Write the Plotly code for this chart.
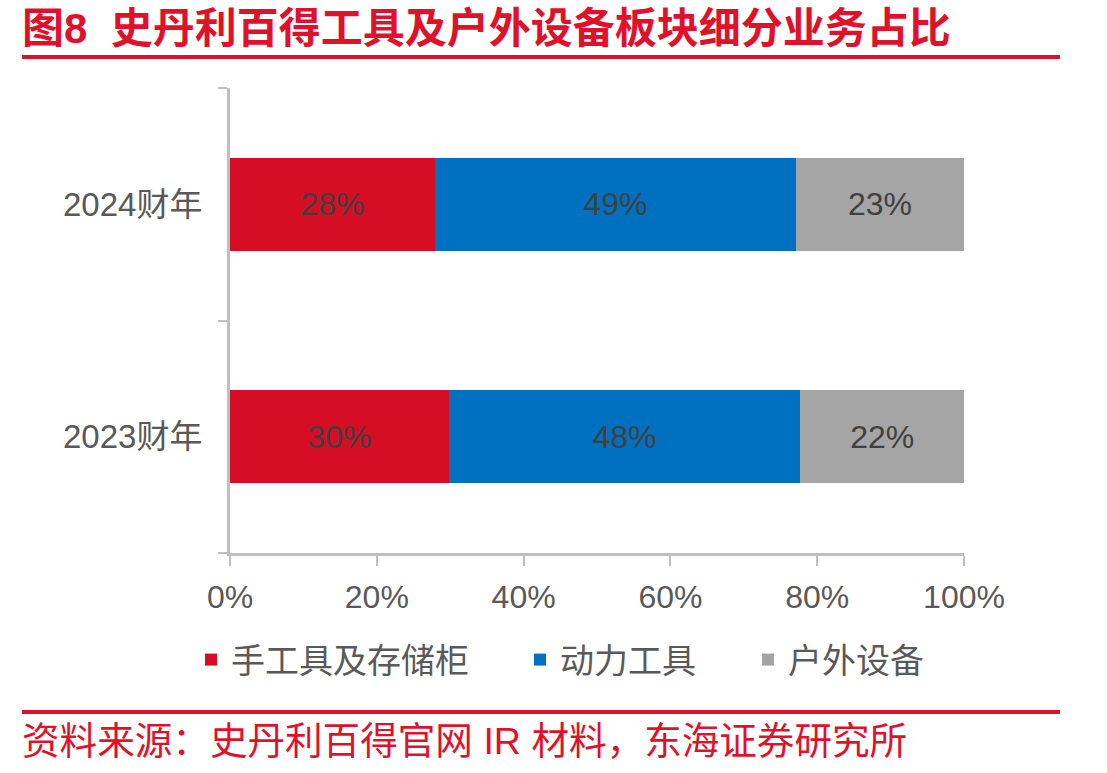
import plotly.graph_objects as go

W, H = 1107, 773
L, R, T, B = 230, 964, 88, 553  # plot area in pixels

categories = ["2023财年", "2024财年"]
series_names = ["手工具及存储柜", "动力工具", "户外设备"]
hand_tools = [29.8, 27.9]
power_tools = [47.9, 49.2]
outdoor = [22.3, 22.9]
x_ticks = [0, 20, 40, 60, 80, 100]
x_tick_labels = ["0%", "20%", "40%", "60%", "80%", "100%"]
colors = ["#D50E25", "#0070C0", "#A5A5A5"]
legend_ids = ["legend", "legend2", "legend3"]
legend_x_px = [191, 520, 748]

title_text = "图8  史丹利百得工具及户外设备板块细分业务占比"
source_text = "资料来源：史丹利百得官网 IR 材料，东海证券研究所"

FONT = "Liberation Sans, Arial, Noto Sans CJK SC, sans-serif"
RED = "#E0122B"


def px(p):
    return (p - L) / (R - L)


def py(p):
    return (B - p) / (B - T)


fig = go.Figure()
for name, vals, col, lid in zip(series_names, [hand_tools, power_tools, outdoor], colors, legend_ids):
    fig.add_trace(go.Bar(
        y=categories, x=vals, name=name, orientation="h",
        marker=dict(color=col, line=dict(width=0)),
        width=0.4,
        text=[f"{v:.0f}%" for v in vals],
        textposition="inside", insidetextanchor="middle",
        textfont=dict(color="#404040", size=32, family=FONT),
        constraintext="none",
        hoverinfo="skip",
        legend=lid,
    ))

legend_style = dict(
    orientation="h", xref="container", yref="container",
    xanchor="left", y=1 - 660 / H, yanchor="middle",
    font=dict(size=34, color="#595959"),
    bgcolor="rgba(0,0,0,0)",
    itemclick=False,
)

fig.update_layout(
    width=W, height=H,
    barmode="stack",
    plot_bgcolor="white", paper_bgcolor="white",
    margin=dict(l=L, r=W - R, t=T, b=H - B, pad=0, autoexpand=False),
    font=dict(family=FONT, color="#595959", size=32),
    xaxis=dict(
        range=[0, 100], tickvals=x_ticks, ticktext=x_tick_labels,
        showgrid=False, zeroline=False,
        showline=True, linecolor="#BFBFBF", linewidth=3,
        ticks="outside", ticklen=10, tickwidth=2, tickcolor="#BFBFBF",
        tickfont=dict(size=32, color="#595959"),
        ticklabelstandoff=4,
    ),
    yaxis=dict(
        type="category", categoryorder="array", categoryarray=categories,
        range=[-0.5, 1.5],
        showgrid=False, zeroline=False,
        showline=True, linecolor="#BFBFBF", linewidth=3,
        ticks="outside", ticklen=9, tickwidth=2, tickcolor="#BFBFBF",
        tickson="boundaries",
        tickfont=dict(size=33, color="#595959"),
        ticklabelstandoff=18,
    ),
    legend=dict(x=legend_x_px[0] / W, **legend_style),
    legend2=dict(x=legend_x_px[1] / W, **legend_style),
    legend3=dict(x=legend_x_px[2] / W, **legend_style),
    showlegend=True,
)

fig.add_annotation(
    xref="paper", yref="paper", x=px(20), y=py(29),
    xanchor="left", yanchor="middle", showarrow=False,
    text=f"<b>{title_text}</b>",
    font=dict(size=42, color=RED, family=FONT),
)
fig.add_annotation(
    xref="paper", yref="paper", x=px(20), y=py(741),
    xanchor="left", yanchor="middle", showarrow=False,
    text=source_text,
    font=dict(size=37.6, color=RED, family=FONT),
)
for yy in (57, 712):
    fig.add_shape(type="line", xref="paper", yref="paper",
                  x0=px(22), x1=px(1060), y0=py(yy), y1=py(yy),
                  line=dict(color=RED, width=4))

fig.write_html("out.html")
